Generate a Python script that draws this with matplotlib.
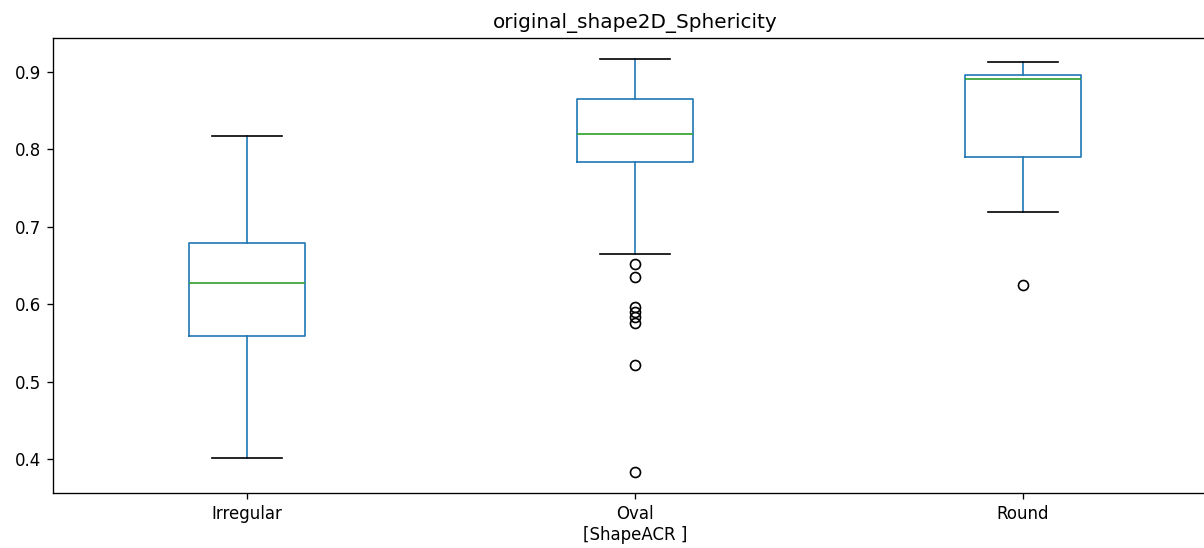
import matplotlib
matplotlib.use("Agg")
import matplotlib.pyplot as plt

categories = ["Irregular", "Oval", "Round"]
whisker_low = [0.402, 0.665, 0.719]
q1 = [0.559, 0.783, 0.790]
median = [0.628, 0.819, 0.891]
q3 = [0.679, 0.865, 0.896]
whisker_high = [0.817, 0.917, 0.913]
outliers = [
    [],
    [0.652, 0.635, 0.597, 0.590, 0.584, 0.576, 0.522, 0.383],
    [0.625],
]

stats = []
for i, name in enumerate(categories):
    stats.append({
        "label": name,
        "whislo": whisker_low[i],
        "q1": q1[i],
        "med": median[i],
        "q3": q3[i],
        "whishi": whisker_high[i],
        "fliers": outliers[i],
    })

# screenshot looks like a 120 dpi render cut off on the right
fig = plt.figure(figsize=(1204 / 120, 548 / 120), dpi=120)
ax = fig.add_axes([53 / 1204, 54.7 / 548, 1164 / 1204, 455 / 548])

ax.bxp(stats, widths=0.3, capwidths=0.18,
       boxprops=dict(color="#1f77b4"),
       whiskerprops=dict(color="#1f77b4"),
       medianprops=dict(color="#2ca02c"),
       capprops=dict(color="black"),
       flierprops=dict(marker="o", markerfacecolor="none", markeredgecolor="black"))

ax.set_xlim(0.5, 3.5)
ax.set_ylim(0.3561, 0.9431)
ax.set_yticks([0.4, 0.5, 0.6, 0.7, 0.8, 0.9])
ax.set_title("original_shape2D_Sphericity")
ax.set_xlabel("[ShapeACR ]", labelpad=2)

fig.savefig("out.png", dpi=120)
